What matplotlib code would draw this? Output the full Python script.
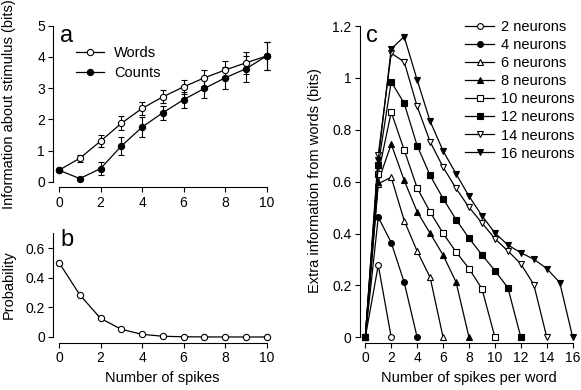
#!/usr/bin/env python

from matplotlib import ticker

import matplotlib.pyplot as plt
import numpy as np

plt.rcParams['font.family'] = ['Liberation Sans', 'DejaVu Sans']
plt.rcParams['font.size'] = 10

# panel a / b : information and probability vs number of spikes
spikes = np.arange(11)
info_words = [0.37, 0.75, 1.30, 1.87, 2.35, 2.72, 3.04, 3.33, 3.58, 3.81, 4.03]
err_words = [0, 0.12, 0.20, 0.22, 0.22, 0.21, 0.23, 0.26, 0.30, 0.36, 0.45]
info_counts = [0.37, 0.10, 0.42, 1.14, 1.75, 2.21, 2.63, 2.99, 3.33, 3.62, 4.03]
err_counts = [0, 0, 0.20, 0.29, 0.32, 0.23, 0.26, 0.30, 0.36, 0.42, 0.45]
probability = [0.503, 0.285, 0.126, 0.052, 0.018, 0.005, 0.0015, 0.0005, 0.0002, 0.0001, 0.0]

# panel c : extra information from words, one list per population size
neurons = [2, 4, 6, 8, 10, 12, 14, 16]
extra_info = {
    2: [0, 0.278, 0],
    4: [0, 0.463, 0.365, 0.212, 0],
    6: [0, 0.592, 0.617, 0.450, 0.332, 0.231, 0],
    8: [0, 0.600, 0.745, 0.605, 0.484, 0.401, 0.317, 0.213, 0],
    10: [0, 0.630, 0.868, 0.722, 0.576, 0.483, 0.401, 0.329, 0.265, 0.187, 0],
    12: [0, 0.665, 0.985, 0.902, 0.739, 0.624, 0.535, 0.454, 0.382, 0.318,
         0.257, 0.191, 0],
    14: [0, 0.703, 1.095, 1.062, 0.890, 0.754, 0.656, 0.574, 0.501, 0.441,
         0.380, 0.333, 0.283, 0.203, 0],
    16: [0, 0.685, 1.112, 1.159, 0.992, 0.833, 0.719, 0.630, 0.544, 0.469,
         0.402, 0.356, 0.326, 0.301, 0.265, 0.211, 0],
}
markers = {2: ('o', 'white'), 4: ('o', 'k'), 6: ('^', 'white'), 8: ('^', 'k'),
           10: ('s', 'white'), 12: ('s', 'k'), 14: ('v', 'white'), 16: ('v', 'k')}

W, H = 581, 390


def px_axes(fig, x0, x1, y0, y1):
    '''axes rect from pixel coords (x0,x1 left/right, y0,y1 top/bottom from top)'''
    return fig.add_axes([x0 / W, 1 - y1 / H, (x1 - x0) / W, (y1 - y0) / H])


def igor_style(ax, xmax, ymax):
    for s in ('top', 'right'):
        ax.spines[s].set_visible(False)
    for s in ('left', 'bottom'):
        ax.spines[s].set_position(('outward', 4))
        ax.spines[s].set_linewidth(0.8)
    ax.spines['left'].set_bounds(0, ymax)
    ax.spines['bottom'].set_bounds(0, xmax)
    ax.set_xlim(0, xmax)
    ax.set_ylim(0, ymax)
    ax.tick_params(direction='out', length=3.5, width=0.8, pad=2.5,
                   labelsize=10)
    ax.yaxis.set_major_formatter(ticker.FuncFormatter(lambda v, p: '{:g}'.format(round(v, 2))))


fig = plt.figure(figsize=(W / 100, H / 100), dpi=100)

# ---- a
ax = px_axes(fig, 59, 266.7, 25.7, 181.7)
igor_style(ax, 10, 5)
ax.set_xticks(range(0, 11, 2))
ax.set_yticks(range(0, 6))
kw = dict(color='k', lw=0.9, ms=4.5, mec='k', mew=0.8, capsize=2.5,
          elinewidth=0.8, capthick=0.8, clip_on=False)
ax.errorbar(spikes, info_words, yerr=err_words, fmt='-o', mfc='white',
            label='Words', **kw)
ax.errorbar(spikes, info_counts, yerr=err_counts, fmt='-o', mfc='k',
            label='Counts', **kw)
h, l = ax.get_legend_handles_labels()
ax.legend([hh[0] for hh in h], l, frameon=False, loc='upper left',
          bbox_to_anchor=(76 / W, 1 - 46 / H), bbox_transform=fig.transFigure,
          borderpad=0, borderaxespad=0, handlelength=1.9, handletextpad=0.7,
          labelspacing=0.4, fontsize=10.5)
fig.text(60 / W, 1 - 36 / H, 'a', fontsize=17, ha='left', va='center')
fig.text(9 / W, 1 - 104 / H, 'Information about stimulus (bits)', rotation=90,
         ha='center', va='center', fontsize=10.5)

# ---- b
ax = px_axes(fig, 59, 266.7, 233.4, 337)
igor_style(ax, 10, 0.7)
ax.set_xticks(range(0, 11, 2))
ax.set_yticks([0, 0.2, 0.4, 0.6])
ax.plot(spikes, probability, '-o', color='k', lw=0.9, ms=4.5, mfc='white',
        mec='k', mew=0.8, clip_on=False)
fig.text(60 / W, 1 - 240 / H, 'b', fontsize=17, ha='left', va='center')
fig.text(9 / W, 1 - 285 / H, 'Probability', rotation=90,
         ha='center', va='center', fontsize=10.5)
fig.text(162.5 / W, 1 - 378 / H, 'Number of spikes', ha='center',
         va='center', fontsize=10.5)

# ---- c
ax = px_axes(fig, 365.3, 572.7, 26, 337.3)
igor_style(ax, 16, 1.2)
ax.set_xticks(range(0, 17, 2))
ax.set_yticks([0, 0.2, 0.4, 0.6, 0.8, 1.0, 1.2])
for n in neurons:
    y = extra_info[n]
    m, fc = markers[n]
    ax.plot(np.arange(len(y)), y, '-', marker=m, color='k', lw=0.9, ms=4.2,
            mfc=fc, mec='k', mew=0.8, clip_on=False,
            label='{} neurons'.format(n))
ax.legend(frameon=False, loc='upper left',
          bbox_to_anchor=(465 / W, 1 - 20 / H), bbox_transform=fig.transFigure,
          borderpad=0, borderaxespad=0, handlelength=2.0, handletextpad=0.5,
          labelspacing=0.28, fontsize=10.5)
fig.text(366 / W, 1 - 36 / H, 'c', fontsize=17, ha='left', va='center')
fig.text(315 / W, 1 - 181 / H, 'Extra information from words (bits)',
         rotation=90, ha='center', va='center', fontsize=10.5)
fig.text(469 / W, 1 - 378 / H, 'Number of spikes per word', ha='center',
         va='center', fontsize=10.5)

fig.savefig('out.png', dpi=100)
